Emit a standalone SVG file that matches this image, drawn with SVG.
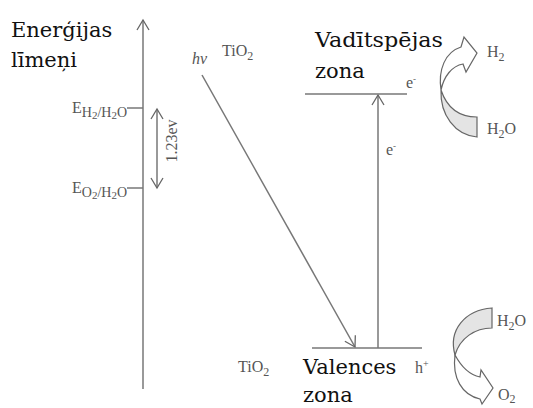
<svg xmlns="http://www.w3.org/2000/svg" width="533" height="408" viewBox="0 0 533 408">
<style>
.title{font-family:"DejaVu Serif","Liberation Serif",serif;font-size:21px;fill:#111}
.lbl{font-family:"Liberation Serif",serif;font-size:16px;fill:#555}
.ln{stroke:#777;stroke-width:1.5;fill:none}
.head{stroke:#666;stroke-width:1.3;fill:none}
.rib{stroke:#666;stroke-width:1.2;fill:#fff}
.shade{stroke:#666;stroke-width:1.2;fill:#e4e4e4}
</style>
<defs>
<marker id="open" markerWidth="14" markerHeight="14" refX="12" refY="7" orient="auto" markerUnits="userSpaceOnUse">
<path d="M2,1 L12,7 L2,13" class="head"/>
</marker>
<marker id="openS" markerWidth="14" markerHeight="14" refX="2" refY="7" orient="auto" markerUnits="userSpaceOnUse">
<path d="M12,1 L2,7 L12,13" class="head"/>
</marker>
</defs>
<rect width="533" height="408" fill="#fff"/>
<g id="axis-title">
<text class="title" x="11" y="37">Enerģijas</text>
<text class="title" x="11" y="67">līmeņi</text>
</g>
<g id="connectors">
<line class="ln" x1="143" y1="389" x2="143" y2="20" marker-end="url(#open)"/>
<line class="ln" x1="127" y1="108" x2="143" y2="108"/>
<line class="ln" x1="127" y1="188" x2="143" y2="188"/>
<line class="ln" x1="157" y1="109" x2="157" y2="188" marker-start="url(#openS)" marker-end="url(#open)"/>
<line class="ln" x1="202" y1="75" x2="355" y2="347" marker-end="url(#open)"/>
<line class="ln" x1="378" y1="348" x2="378" y2="95" marker-end="url(#open)"/>
</g>
<g id="e-h2">
<text class="lbl" x="127" y="113" font-size="18" text-anchor="end">E<tspan font-size="14" dy="4">H</tspan><tspan font-size="11" dy="2">2</tspan><tspan font-size="14" dy="-2">/H</tspan><tspan font-size="11" dy="2">2</tspan><tspan font-size="14" dy="-2">O</tspan></text>
</g>
<g id="e-o2">
<text class="lbl" x="127" y="193" font-size="18" text-anchor="end">E<tspan font-size="14" dy="4">O</tspan><tspan font-size="11" dy="2">2</tspan><tspan font-size="14" dy="-2">/H</tspan><tspan font-size="11" dy="2">2</tspan><tspan font-size="14" dy="-2">O</tspan></text>
</g>
<g id="gap">
<text class="lbl" font-size="14" transform="translate(177,141) rotate(-90)" text-anchor="middle">1.23ev</text>
</g>
<g id="photon">
<text class="lbl" x="192" y="64" font-style="italic">hv</text>
<text class="lbl" x="222" y="56">TiO<tspan font-size="12" dy="4">2</tspan></text>
</g>
<g id="conduction-band">
<line class="ln" x1="305" y1="94" x2="407" y2="94"/>
<text class="title" x="315" y="47" textLength="128" lengthAdjust="spacingAndGlyphs">Vadītspējas</text>
<text class="title" x="315" y="78">zona</text>
<text class="lbl" x="406" y="88">e<tspan font-size="9" dy="-6">-</tspan></text>
<text class="lbl" x="386" y="155">e<tspan font-size="9" dy="-6">-</tspan></text>
</g>
<g id="valence-band">
<line class="ln" x1="312" y1="348" x2="422" y2="348"/>
<text class="title" x="303" y="374">Valences</text>
<text class="title" x="303" y="402">zona</text>
<text class="lbl" x="238" y="372">TiO<tspan font-size="12" dy="4">2</tspan></text>
<text class="lbl" x="415" y="373">h<tspan font-size="10" dy="-6">+</tspan></text>
</g>
<g id="reduction">
<path class="shade" d="M441,90 C440,115 455,135 477,137 L477,117 C460,117 447,108 441,90 Z"/>
<path class="rib" d="M441,90 C438,70 445,52 461,47 L464,37 L477,53 L466,72 L463,64 C452,66 444,76 441,90 Z"/>
<text class="lbl" x="487" y="57">H<tspan font-size="12" dy="4">2</tspan></text>
<text class="lbl" x="487" y="134">H<tspan font-size="12" dy="4">2</tspan><tspan dy="-4">O</tspan></text>
</g>
<g id="oxidation">
<path class="shade" d="M455,355 C448,330 465,310 492,308 L492,328 C475,328 460,338 455,355 Z"/>
<path class="rib" d="M455,355 C462,368 470,375 480,377 L481,370 L493,388 L482,404 L480,399 C462,395 452,378 455,355 Z"/>
<text class="lbl" x="497" y="326">H<tspan font-size="12" dy="4">2</tspan><tspan dy="-4">O</tspan></text>
<text class="lbl" x="498" y="400">O<tspan font-size="12" dy="3">2</tspan></text>
</g>
</svg>
